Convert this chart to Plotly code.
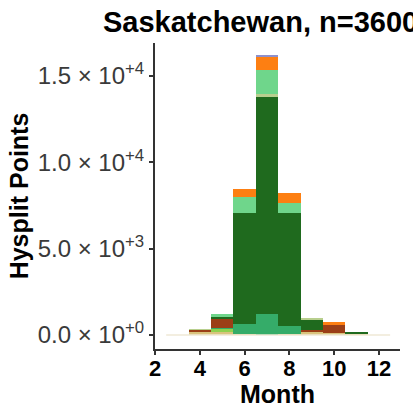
import plotly.graph_objects as go

# Monthly HYSPLIT point counts, stacked by source group
months = [3, 4, 5, 6, 7, 8, 9, 10, 11, 12]
tan = [0, 150, 190, 40, 0, 40, 200, 133, 60, 0]
lime = [0, 0, 197, 0, 0, 0, 0, 0, 0, 0]
med_green = [0, 0, 35, 600, 1216, 481, 0, 0, 0, 0]
sienna = [0, 140, 544, 0, 0, 0, 100, 446, 0, 0]
dark_green = [0, 0, 93, 6407, 12584, 6526, 620, 0, 130, 0]
khaki = [0, 40, 0, 0, 155, 0, 58, 0, 0, 0]
light_green = [0, 0, 150, 961, 1389, 579, 0, 0, 0, 0]
orange = [0, 0, 0, 446, 736, 579, 0, 156, 0, 0]
lavender = [0, 0, 0, 0, 133, 0, 0, 0, 0, 0]

x_ticks = [2, 4, 6, 8, 10, 12]
y_ticks = [0, 5000, 10000, 15000]
y_ticktext = ["0.0 × 10<sup>+0</sup>", "5.0 × 10<sup>+3</sup>",
              "1.0 × 10<sup>+4</sup>", "1.5 × 10<sup>+4</sup>"]

layers = [
    ("tan", tan, "#d9c47e"),
    ("lime", lime, "#8fd14f"),
    ("medium green", med_green, "#35ac69"),
    ("sienna", sienna, "#9b3f17"),
    ("dark green", dark_green, "#1f6a1e"),
    ("khaki", khaki, "#b8cf8e"),
    ("light green", light_green, "#6fd68b"),
    ("orange", orange, "#fd7f12"),
    ("lavender", lavender, "#8e90cc"),
]

fig = go.Figure()

# faint baseline spanning every histogram bin (zero-count bins included)
fig.add_trace(go.Scatter(
    x=[min(months) - 0.5, max(months) + 0.5], y=[0, 0],
    mode="lines", line=dict(color="#efe8d6", width=1.5),
    hoverinfo="skip", showlegend=False))

for name, vals, col in layers:
    fig.add_trace(go.Bar(
        x=months, y=vals, name=name, width=1,
        marker=dict(color=col, line=dict(width=0)),
        showlegend=False))

axis_col = "#333333"
fig.update_layout(
    barmode="stack",
    width=413, height=408,
    margin=dict(l=155, r=13, t=43, b=59, autoexpand=False),
    paper_bgcolor="white", plot_bgcolor="white",
    font=dict(family="Liberation Sans, Arial, sans-serif", color="black"),
    title=dict(text="<b>Saskatchewan, n=3600</b>",
               x=103 / 413, xanchor="left", xref="container",
               y=1 - 22 / 408, yanchor="middle", yref="container",
               font=dict(size=29, color="black")),
    xaxis=dict(
        range=[2, 12.94], tickvals=x_ticks, automargin=False,
        showline=True, linecolor=axis_col, linewidth=2,
        ticks="outside", ticklen=4, tickwidth=2, tickcolor=axis_col,
        ticklabelstandoff=-5,
        tickfont=dict(size=22, color="black", weight="bold"),
        showgrid=False, zeroline=False,
        title=dict(text="<b>Month</b>", font=dict(size=25), standoff=6)),
    yaxis=dict(
        range=[-811, 16908], tickvals=y_ticks, ticktext=y_ticktext,
        automargin=False,
        showline=True, linecolor=axis_col, linewidth=2,
        ticks="outside", ticklen=4, tickwidth=2, tickcolor=axis_col,
        tickfont=dict(size=24, color="#3a3a3a"),
        showgrid=False, zeroline=False,
        title=dict(text="<b>Hysplit Points</b>", font=dict(size=25), standoff=2)),
)

fig.write_html("out.html")
